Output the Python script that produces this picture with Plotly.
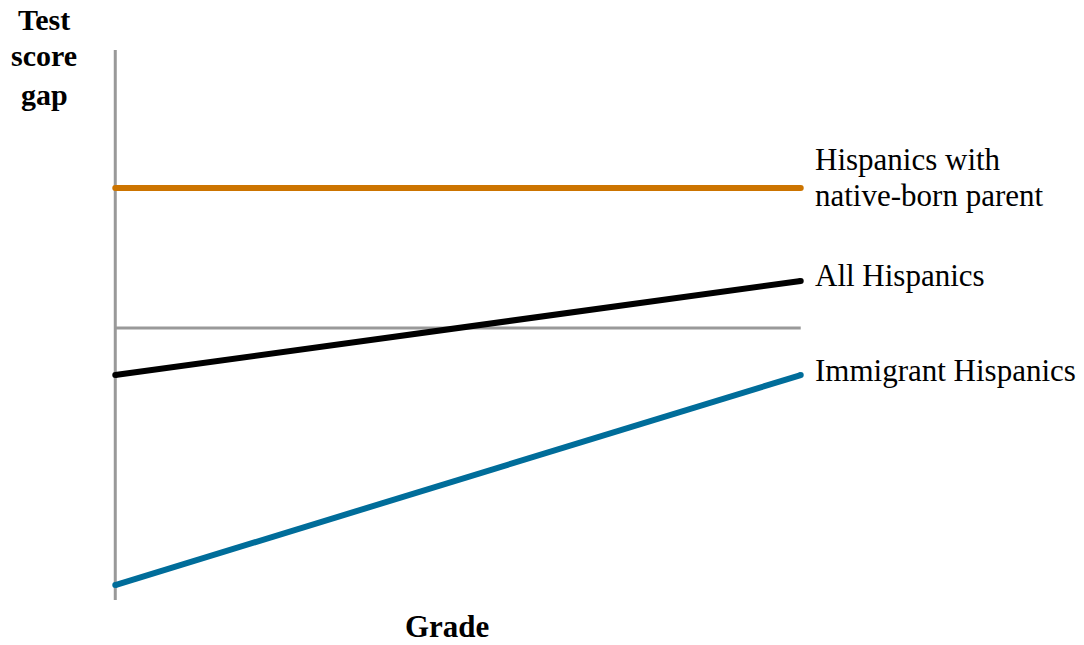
import plotly.graph_objects as go

# Data (schematic score gap vs grade)
grade = [0, 1]
native_born = [1.0, 1.0]
all_hisp = [-0.336, 0.336]
immigrant = [-1.836, -0.336]
zero_line = [0, 0]
y_axis_span = [-1.943, 1.986]

series_lines = [["Hispanics with", "native-born parent"], ["All Hispanics"], ["Immigrant Hispanics"]]
colors = ["#CC7400", "#000000", "#006D9A"]
title_lines = ["Test", "score", "gap"]
x_title = "Grade"

FONT = "Liberation Serif, Times New Roman, serif"

W, H = 1084, 645
L, R, T, B = 80.7, 248.7, 36, 31
XR = [-0.05, 1.05]
YR = [y_axis_span[0] - 0.1, y_axis_span[1] + 0.1]


def px2paper(px, py):
    pw = W - L - R
    ph = H - T - B
    return (px - L) / pw, 1 - (py - T) / ph


fig = go.Figure()
fig.add_trace(go.Scatter(x=[0, 0], y=y_axis_span, mode="lines",
                         line=dict(color="#999999", width=3), hoverinfo="skip"))
fig.add_trace(go.Scatter(x=grade, y=zero_line, mode="lines",
                         line=dict(color="#999999", width=3), hoverinfo="skip"))

label_shifts = [[29, -7], [5], [5]]
for lines, ys, col, shifts in zip(series_lines, [native_born, all_hisp, immigrant], colors, label_shifts):
    fig.add_trace(go.Scatter(x=grade, y=ys, mode="lines+markers",
                             line=dict(color=col, width=6),
                             marker=dict(color=col, size=6, line=dict(width=0)),
                             hoverinfo="skip"))
    for txt, sh in zip(lines, shifts):
        fig.add_annotation(x=grade[-1], y=ys[-1], xref="x", yref="y", text=txt,
                           showarrow=False, xanchor="left", yanchor="middle", align="left",
                           xshift=12, yshift=sh,
                           font=dict(family=FONT, size=31, color="#000000"))

for txt, py in zip(title_lines, [19, 56, 94]):
    xp, yp = px2paper(44, py)
    fig.add_annotation(x=xp, y=yp, xref="paper", yref="paper",
                       text="<b>" + txt + "</b>", showarrow=False,
                       xanchor="center", yanchor="middle",
                       font=dict(family=FONT, size=30, color="#000000"))

xp, yp = px2paper(446.5, 626.5)
fig.add_annotation(x=xp, y=yp, xref="paper", yref="paper",
                   text="<b>" + x_title + "</b>", showarrow=False,
                   xanchor="center", yanchor="middle",
                   font=dict(family=FONT, size=31, color="#000000"))

fig.update_layout(
    width=W, height=H,
    margin=dict(l=L, r=R, t=T, b=B, pad=0),
    paper_bgcolor="white", plot_bgcolor="white",
    showlegend=False,
    xaxis=dict(range=XR, visible=False, fixedrange=True),
    yaxis=dict(range=YR, visible=False, fixedrange=True),
)

fig.write_html("out.html", config={"displayModeBar": False},
               post_script="document.body.style.margin='0';document.body.style.overflow='hidden';")
